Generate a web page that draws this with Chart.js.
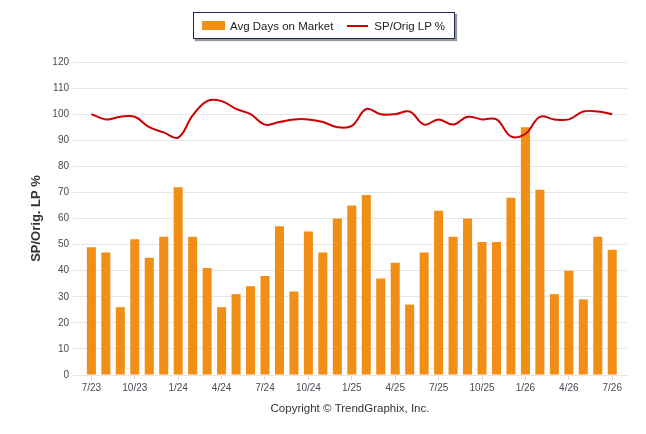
<!DOCTYPE html>
<html>
<head>
<meta charset="utf-8">
<script src="https://cdn.jsdelivr.net/npm/chart.js@4"></script>
<style>
  body { margin: 0; background: #fff; }
  #wrap { position: relative; width: 646px; height: 434px; }
  #legend {
    position: absolute; left: 193px; top: 12px; width: 260px; height: 25px;
    border: 1px solid #1c2b4f; box-shadow: 2px 2px 1px #9a9a9a;
    font: 11.5px "Liberation Sans", Arial, sans-serif; color: #222;
    display: flex; align-items: center; background: #fff;
  }
  .sw-bar { width: 23px; height: 9px; background: #f08e16; margin: 0 5px 0 8px; }
  .sw-line { width: 21px; height: 2px; background: #cc0000; margin: 0 6px 0 14px; }
</style>
</head>
<body>
<div id="wrap">
  <canvas id="myChart" width="646" height="434"></canvas>
  <div id="legend">
    <span class="sw-bar"></span><span>Avg Days on Market</span>
    <span class="sw-line"></span><span>SP/Orig LP %</span>
  </div>
</div>
<script>
// months 7/23 .. 7/26
const avgDays = [49, 47, 26, 52, 45, 53, 72, 53, 41, 26, 31, 34, 38, 57, 32, 55, 47, 60, 65,
  69, 37, 43, 27, 47, 63, 53, 60, 51, 51, 68, 95, 71, 31, 40, 29, 53, 48];
const spOrigLP = [100, 98, 99, 99, 95, 93, 91, 99.5, 105, 105, 102, 100, 96, 97, 98, 98, 97, 95, 95.5,
  102, 100, 100, 101, 96, 98, 96, 99, 98, 98, 91.5, 92.5, 99, 98, 98, 101, 101, 100];
const tickLabels = ['7/23', '10/23', '1/24', '4/24', '7/24', '10/24', '1/25', '4/25',
  '7/25', '10/25', '1/26', '4/26', '7/26'];
const TICK_STEP = 3;

const tickFont = { family: '"Liberation Sans", Arial, sans-serif', size: 10 };

let ctx = document.getElementById('myChart').getContext('2d');
let chart = new Chart(ctx, {
  type: 'bar',
  data: {
    datasets: [{
      type: 'line',
      label: 'SP/Orig LP %',
      data: spOrigLP.map((v, i) => ({ x: i, y: v })),
      borderColor: '#cc0000',
      borderWidth: 2,
      tension: 0.4,
      pointRadius: 0,
      fill: false,
      order: 0
    }, {
      label: 'Avg Days on Market',
      data: avgDays.map((v, i) => ({ x: i, y: v })),
      backgroundColor: '#f08e16',
      categoryPercentage: 0.8,
      barPercentage: 0.78,
      order: 1
    }]
  },
  options: {
    responsive: false,
    animation: false,
    layout: { padding: { left: 29, right: 19, top: 62, bottom: 18 } },
    plugins: { legend: { display: false }, tooltip: { enabled: false } },
    scales: {
      x: {
        type: 'linear',
        offset: false,
        min: -1.27,
        max: 37.02,
        afterBuildTicks: (scale) => {
          scale.ticks = tickLabels.map((t, i) => ({ value: i * TICK_STEP }));
        },
        afterFit: (scale) => { scale.height = 41; },
        ticks: {
          callback: (v) => tickLabels[v / TICK_STEP],
          font: tickFont, color: '#4a4a55', padding: 2, maxRotation: 0
        },
        grid: { drawOnChartArea: false, offset: false, tickLength: 5, color: '#d8d8d8' },
        border: { color: '#e6e6e6' },
        title: {
          display: true,
          text: 'Copyright © TrendGraphix, Inc.',
          font: { family: '"Liberation Sans", Arial, sans-serif', size: 11.5 },
          color: '#333',
          padding: { top: 0, bottom: 0 }
        }
      },
      y: {
        min: 0,
        max: 120,
        ticks: { stepSize: 10, font: tickFont, color: '#4a4a55', padding: 4 },
        afterFit: (scale) => { scale.width = 44; },
        grid: { color: '#e6e6e6', drawTicks: false },
        border: { display: false },
        title: {
          display: true,
          text: 'SP/Orig. LP %',
          font: { family: '"Liberation Sans", Arial, sans-serif', size: 13, weight: 'bold' },
          color: '#333',
          padding: { top: 0, bottom: 0 }
        }
      }
    }
  }
});
</script>
</body>
</html>
